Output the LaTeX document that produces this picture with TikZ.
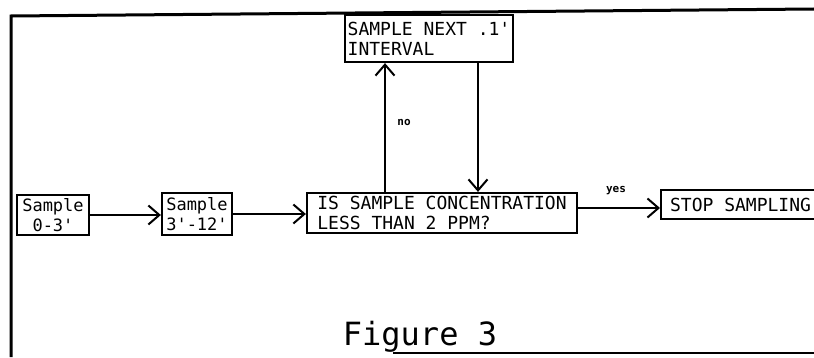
\documentclass[tikz,border=0pt]{standalone}
\usepackage{fontspec}
\setmonofont{DejaVu Sans Mono}
\usetikzlibrary{arrows.meta, positioning}

\begin{document}
\begin{tikzpicture}[
  x=1pt, y=1pt,
  font=\ttfamily\fontsize{18}{20}\selectfont,
  stepbox/.style={rectangle, draw, line width=2.2pt, inner sep=3pt,
              align=left},
  arr/.style={-{Straight Barb[length=11pt, width=19pt]}, line width=2pt},
  lbl/.style={font=\ttfamily\bfseries\fontsize{11}{12}\selectfont},
  frame/.style={line width=3pt}
]
\useasboundingbox (0,0) rectangle (814,357);
\clip (0,0) rectangle (814,357);

% ── Frame of the figure ──
\draw[frame] (11,0) -- (11,341) -- (814,348);
\draw[frame, line width=2.4pt] (393,4) -- (814,4);

% ── Sampling steps along one row ──
\node[stepbox, minimum width=72pt, minimum height=40pt, align=center,
      font=\ttfamily\fontsize{17}{20}\selectfont] (s03) at (53,142)
  {Sample\\0-3'};
\node[stepbox, minimum width=70pt, minimum height=42pt,
      font=\ttfamily\fontsize{17}{20}\selectfont] (s312) at (197,143)
  {Sample\\3'-12'};
\node[stepbox, minimum width=270pt, minimum height=40pt] (ask) at (442,144)
  {IS SAMPLE CONCENTRATION\\LESS THAN 2 PPM?};
\node[stepbox, anchor=west, minimum height=29pt, text width=150pt,
      inner xsep=9pt] (stop) at (660,152.5) {STOP\hspace{0.6em}SAMPLING};

% ── Loop box above the question ──
\node[stepbox, minimum width=164pt, minimum height=47pt] (next) at (429,318.5)
  {SAMPLE NEXT .1'\\INTERVAL};

% ── Arrows ──
\draw[arr] (s03.east) -- (s03.east -| s312.west);
\draw[arr] (s312.east) -- (s312.east -| ask.west);
\draw[arr] ([xshift=-44pt]next.south |- ask.north) -- ([xshift=-44pt]next.south);
\draw[arr] ([xshift=49pt]next.south) -- ([xshift=49pt]next.south |- ask.north);
\draw[arr] ([yshift=5pt]ask.east) -- ([yshift=5pt]ask.east -| stop.west);

% ── Branch labels and caption ──
\node[lbl] (no)  at (404,235) {no};
\node[lbl] (yes) at (616,166) {yes};
\node[font=\ttfamily\fontsize{32}{36}\selectfont] (fig) at (420,20) {Figure 3};

\end{tikzpicture}
\end{document}
